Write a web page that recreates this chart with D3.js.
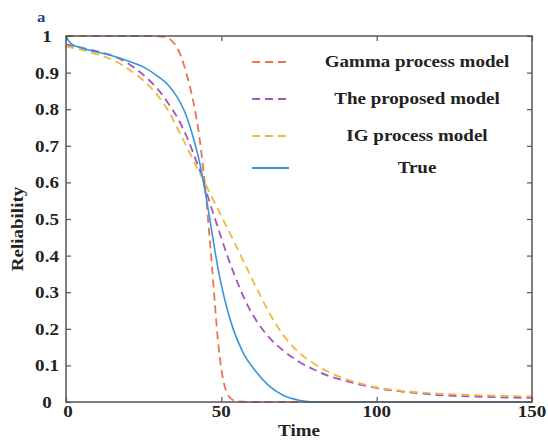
<!DOCTYPE html>
<html>
<head>
<meta charset="utf-8">
<script src="https://cdn.jsdelivr.net/npm/d3@7"></script>
<style>
  body { margin: 0; background: #fff; }
  text { font-family: "Liberation Serif", "Times New Roman", serif; font-weight: bold; }
</style>
</head>
<body>
<svg id="chart" width="548" height="441"></svg>
<script>
// time axis samples and reliability curves
const gammaT = [0, 25, 30, 33, 35, 37, 39, 41, 43, 44, 45, 46, 47, 48, 49, 50, 51, 52, 53, 55, 60, 150];
const gammaR = [1, 1, 0.999, 0.993, 0.978, 0.945, 0.89, 0.82, 0.72, 0.65, 0.57, 0.47, 0.37, 0.26, 0.16, 0.09, 0.045, 0.022, 0.01, 0.002, 0, 0];

const propT = [0, 5, 10, 15, 20, 25, 30, 33, 36, 39, 42, 44, 46, 48, 50, 52, 54, 56, 58, 61, 65, 70, 75, 80, 85, 90, 95, 100, 110, 120, 135, 150];
const propR = [0.977, 0.968, 0.958, 0.946, 0.925, 0.893, 0.85, 0.815, 0.775, 0.722, 0.657, 0.61, 0.552, 0.5, 0.448, 0.398, 0.352, 0.31, 0.272, 0.226, 0.18, 0.14, 0.11, 0.088, 0.07, 0.058, 0.047, 0.038, 0.027, 0.019, 0.014, 0.011];

const igT = [0, 5, 10, 15, 20, 25, 30, 33, 36, 39, 42, 44, 46, 48, 50, 53, 56, 59, 62, 66, 70, 75, 80, 85, 90, 95, 100, 110, 120, 135, 150];
const igR = [0.972, 0.962, 0.95, 0.935, 0.91, 0.878, 0.832, 0.795, 0.745, 0.695, 0.643, 0.61, 0.576, 0.542, 0.508, 0.457, 0.405, 0.352, 0.3, 0.235, 0.182, 0.135, 0.104, 0.08, 0.063, 0.05, 0.04, 0.029, 0.023, 0.018, 0.015];

const trueT = [0, 1, 2, 4, 8, 14, 20, 25, 30, 33, 36, 38, 40, 42, 43, 44, 45, 46, 47, 48, 49, 50, 52, 54, 57, 61, 65, 70, 75, 80, 150];
const trueR = [1, 0.985, 0.977, 0.97, 0.96, 0.948, 0.932, 0.915, 0.887, 0.865, 0.83, 0.797, 0.75, 0.69, 0.655, 0.612, 0.565, 0.515, 0.462, 0.41, 0.362, 0.32, 0.25, 0.195, 0.135, 0.085, 0.047, 0.018, 0.005, 0, 0];

const xTicks = [0, 50, 100, 150];
const yTicks = [0, 0.1, 0.2, 0.3, 0.4, 0.5, 0.6, 0.7, 0.8, 0.9, 1];

const series = [
  { name: 'Gamma process model', t: gammaT, r: gammaR, color: '#e8764f', dash: '8,5' },
  { name: 'The proposed model', t: propT, r: propR, color: '#a057bd', dash: '8,5' },
  { name: 'IG process model', t: igT, r: igR, color: '#f2b83c', dash: '8,5' },
  { name: 'True', t: trueT, r: trueR, color: '#3796da', dash: null }
];

const margin = { top: 36, right: 16, bottom: 39, left: 66 };
const width = 548, height = 441;
const svg = d3.select('#chart');

const x = d3.scaleLinear().domain([0, 150]).range([margin.left, width - margin.right]);
const y = d3.scaleLinear().domain([0, 1]).range([height - margin.bottom, margin.top]);

svg.append('clipPath').attr('id', 'plotclip')
  .append('rect')
  .attr('x', x(0)).attr('y', y(1) - 2)
  .attr('width', x(150) - x(0)).attr('height', y(0) - y(1) + 4);

const line = d3.line()
  .x(d => x(d[0]))
  .y(d => y(d[1]))
  .curve(d3.curveMonotoneX);

const plot = svg.append('g').attr('clip-path', 'url(#plotclip)');
series.forEach(s => {
  plot.append('path')
    .datum(s.t.map((t, i) => [t, s.r[i]]))
    .attr('fill', 'none')
    .attr('stroke', s.color)
    .attr('stroke-width', s.dash ? 1.8 : 1.6)
    .attr('stroke-dasharray', s.dash)
    .attr('d', line);
});

// box with inward ticks on all sides
const axisColor = '#555';
const frame = svg.append('g');
frame.append('rect')
  .attr('x', x(0)).attr('y', y(1))
  .attr('width', x(150) - x(0)).attr('height', y(0) - y(1))
  .attr('fill', 'none').attr('stroke', axisColor).attr('stroke-width', 1.5);

frame.append('g')
  .attr('transform', `translate(0,${y(0)})`)
  .call(d3.axisBottom(x).tickValues(xTicks).tickSize(-5).tickFormat(''))
  .call(g => g.select('.domain').remove());
frame.append('g')
  .attr('transform', `translate(0,${y(1)})`)
  .call(d3.axisTop(x).tickValues(xTicks).tickSize(-5).tickFormat(''))
  .call(g => g.select('.domain').remove());
frame.append('g')
  .attr('transform', `translate(${x(0)},0)`)
  .call(d3.axisLeft(y).tickValues(yTicks).tickSize(-5).tickFormat(''))
  .call(g => g.select('.domain').remove());
frame.append('g')
  .attr('transform', `translate(${x(150)},0)`)
  .call(d3.axisRight(y).tickValues(yTicks).tickSize(-5).tickFormat(''))
  .call(g => g.select('.domain').remove());
frame.selectAll('.tick line').attr('stroke', axisColor).attr('stroke-width', 1.2);

// the figure's type is a little wider than Liberation Serif, so stretch it
const label = (tx, ty, str, opts = {}) => svg.append('text')
  .attr('transform', `translate(${tx},${ty}) ${opts.rotate ? 'rotate(-90) ' : ''}scale(1.12,1)`)
  .attr('text-anchor', opts.anchor || 'middle')
  .attr('font-size', opts.size || 17)
  .attr('fill', opts.color || '#222')
  .text(str);

yTicks.forEach(d => label(47, y(d) + 6, d3.format('~g')(d)));
xTicks.forEach(d => label(x(d) + (d === 0 ? 2 : 0), 417, d));

label(299, 436, 'Time');
label(23, 229, 'Reliability', { rotate: true });
label(37, 22, 'a', { anchor: 'start', size: 15, color: '#1f3d9e' });

// legend
const legendY = [62, 99, 136, 168];
series.forEach((s, i) => {
  svg.append('line')
    .attr('x1', 252).attr('x2', 289)
    .attr('y1', legendY[i]).attr('y2', legendY[i])
    .attr('stroke', s.color)
    .attr('stroke-width', s.dash ? 1.8 : 2)
    .attr('stroke-dasharray', s.dash);
  label(417, legendY[i] + 5, s.name);
});
</script>
</body>
</html>
